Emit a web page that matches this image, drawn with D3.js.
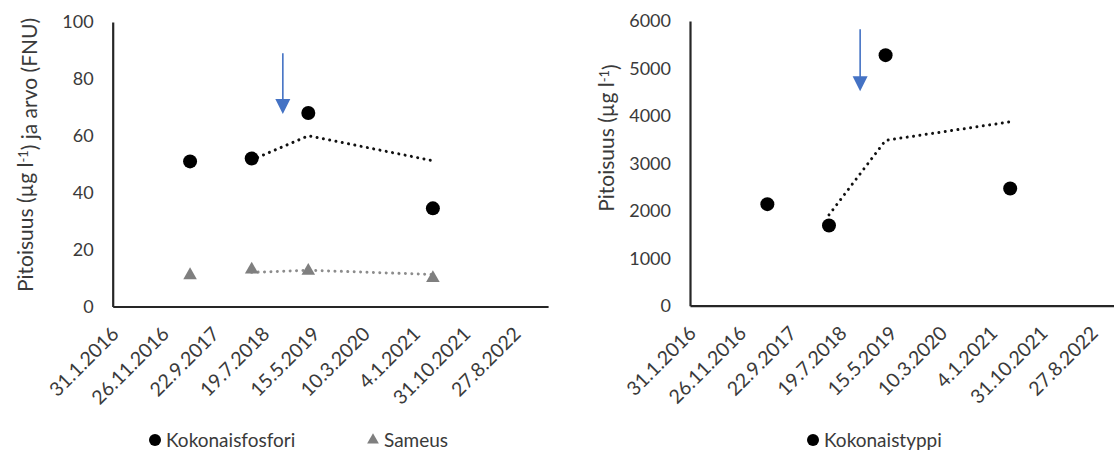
<!DOCTYPE html>
<html>
<head>
<meta charset="utf-8">
<script src="https://cdn.jsdelivr.net/npm/d3@7"></script>
<style>
  html, body { margin: 0; padding: 0; background: #fff; }
  svg { display: block; }
  text { font-family: Lato, "Open Sans", sans-serif; fill: #3a3a3a; }
</style>
</head>
<body>
<svg id="chart" width="1114" height="451"></svg>
<script>
// Sampling dates and measured values
const sampleDates = ["2017-05-07", "2018-05-10", "2019-04-13", "2021-04-26"];
const kokonaisfosfori = [51, 52, 68, 34.5];   // µg/l
const sameus = [11, 13, 12.5, 10];            // FNU
const kokonaistyppi = [2140, 1690, 5280, 2470]; // µg/l

// Date axis labels (every 300 days)
const dateTickLabels = ["31.1.2016", "26.11.2016", "22.9.2017", "19.7.2018", "15.5.2019",
                        "10.3.2020", "4.1.2021", "31.10.2021", "27.8.2022"];
const dateAxisEnd = "2023-03-15";

// Y axis ticks
const phosphorusTicks = [0, 20, 40, 60, 80, 100];
const nitrogenTicks = [0, 1000, 2000, 3000, 4000, 5000, 6000];

// Marker arrow: date, start value, tip value
const arrowDate = "2018-11-12";
const phosphorusArrow = [89, 67.7];
const nitrogenArrow = [5825, 4520];

const parseIso = d3.timeParse("%Y-%m-%d");
const parseFi = d3.timeParse("%d.%m.%Y");
const fmtFi = d3.timeFormat("%-d.%-m.%Y");
const dates = sampleDates.map(parseIso);
const tickDates = dateTickLabels.map(parseFi);

const svg = d3.select("#chart");
const blue = "#4472c4";

// two-point moving average, as an Excel trendline
function movingAverage(values) {
  const out = [];
  for (let i = 1; i < values.length; i++) out.push({ date: dates[i], v: (values[i - 1] + values[i]) / 2 });
  return out;
}

function panel(cfg) {
  const g = svg.append("g");
  const x = d3.scaleTime().domain([tickDates[0], parseIso(dateAxisEnd)]).range([cfg.left, cfg.right]);
  const y = d3.scaleLinear().domain(cfg.yDomain).range([cfg.bottom, cfg.top]);

  // y axis
  const ya = g.append("g").attr("transform", `translate(${cfg.left},0)`)
    .call(d3.axisLeft(y).tickValues(cfg.yTicks).tickFormat(d3.format("d"))
      .tickSize(0).tickPadding(19).tickSizeOuter(0));
  ya.select(".domain").attr("stroke", "#262626").attr("stroke-width", 2.2);
  ya.selectAll("text").style("font-size", "18px").attr("fill", "#3a3a3a").attr("font-family", null);

  // x axis
  const xa = g.append("g").attr("transform", `translate(0,${cfg.bottom})`)
    .call(d3.axisBottom(x).tickValues(tickDates).tickFormat(fmtFi).tickSize(0).tickSizeOuter(0));
  xa.select(".domain").attr("stroke", "#262626").attr("stroke-width", 2.2);
  xa.selectAll("text")
    .style("font-size", "19.5px").attr("fill", "#3a3a3a").attr("font-family", null)
    .attr("text-anchor", "end")
    .attr("dy", "0.35em").attr("y", 0)
    .attr("transform", "translate(2,24) rotate(-45)");

  // y title
  const tt = g.append("text")
    .attr("transform", `translate(${cfg.titleX},${cfg.titleY}) rotate(-90)`)
    .attr("text-anchor", "middle").attr("dy", "0.35em")
    .style("font-size", "21px");
  tt.append("tspan").text("Pitoisuus (µg l");
  tt.append("tspan").text("-1").attr("dy", "-0.45em").style("font-size", "13px");
  tt.append("tspan").text(")" + cfg.titleRest).attr("dy", "0.45em");

  // series
  cfg.series.forEach(s => {
    const ma = movingAverage(s.values);
    g.append("path").datum(ma)
      .attr("d", d3.line().x(d => x(d.date)).y(d => y(d.v)))
      .attr("fill", "none").attr("stroke", s.lineColor).attr("stroke-width", 3)
      .attr("stroke-linecap", "round").attr("stroke-dasharray", "0.01 6.4");
    const pts = g.append("g").selectAll("path").data(s.values).join("path")
      .attr("transform", (v, i) => `translate(${x(dates[i])},${y(v)})`)
      .attr("fill", s.color);
    if (s.shape === "circle") pts.attr("d", d3.symbol(d3.symbolCircle, Math.PI * 49));
    else pts.attr("d", d3.symbol(d3.symbolTriangle, 80));
  });

  // arrow
  const ax = x(parseIso(arrowDate));
  const y0 = y(cfg.arrow[0]), y1 = y(cfg.arrow[1]);
  g.append("line").attr("x1", ax).attr("x2", ax).attr("y1", y0).attr("y2", y1 - 12)
    .attr("stroke", blue).attr("stroke-width", 1.6);
  g.append("path").attr("d", `M${ax - 7.5},${y1 - 15}L${ax + 7.5},${y1 - 15}L${ax},${y1}Z`).attr("fill", blue);

  // legend
  cfg.legend.forEach(l => {
    const lg = g.append("g").attr("transform", `translate(${l.x},${cfg.legendY})`);
    if (l.shape === "circle") lg.append("circle").attr("r", 6).attr("fill", l.color);
    else lg.append("path").attr("d", d3.symbol(d3.symbolTriangle, 60)).attr("fill", l.color);
    lg.append("text").attr("x", 11).attr("dy", "0.35em").style("font-size", "19px").text(l.label);
  });
}

panel({
  left: 112.7, right: 548.1, top: 22, bottom: 306.5,
  yDomain: [0, 100], yTicks: phosphorusTicks,
  titleX: 26, titleY: 155, titleRest: " ja arvo (FNU)",
  series: [
    { values: kokonaisfosfori, color: "#000", lineColor: "#111", shape: "circle" },
    { values: sameus, color: "#7f7f7f", lineColor: "#8c8c8c", shape: "triangle" }
  ],
  arrow: phosphorusArrow,
  legendY: 440,
  legend: [
    { x: 155, shape: "circle", color: "#000", label: "Kokonaisfosfori" },
    { x: 373, shape: "triangle", color: "#7f7f7f", label: "Sameus" }
  ]
});

panel({
  left: 690, right: 690 + 435.4, top: 21, bottom: 305.7,
  yDomain: [0, 6000], yTicks: nitrogenTicks,
  titleX: 607, titleY: 138, titleRest: "",
  series: [
    { values: kokonaistyppi, color: "#000", lineColor: "#111", shape: "circle" }
  ],
  arrow: nitrogenArrow,
  legendY: 440,
  legend: [
    { x: 813, shape: "circle", color: "#000", label: "Kokonaistyppi" }
  ]
});
</script>
</body>
</html>
